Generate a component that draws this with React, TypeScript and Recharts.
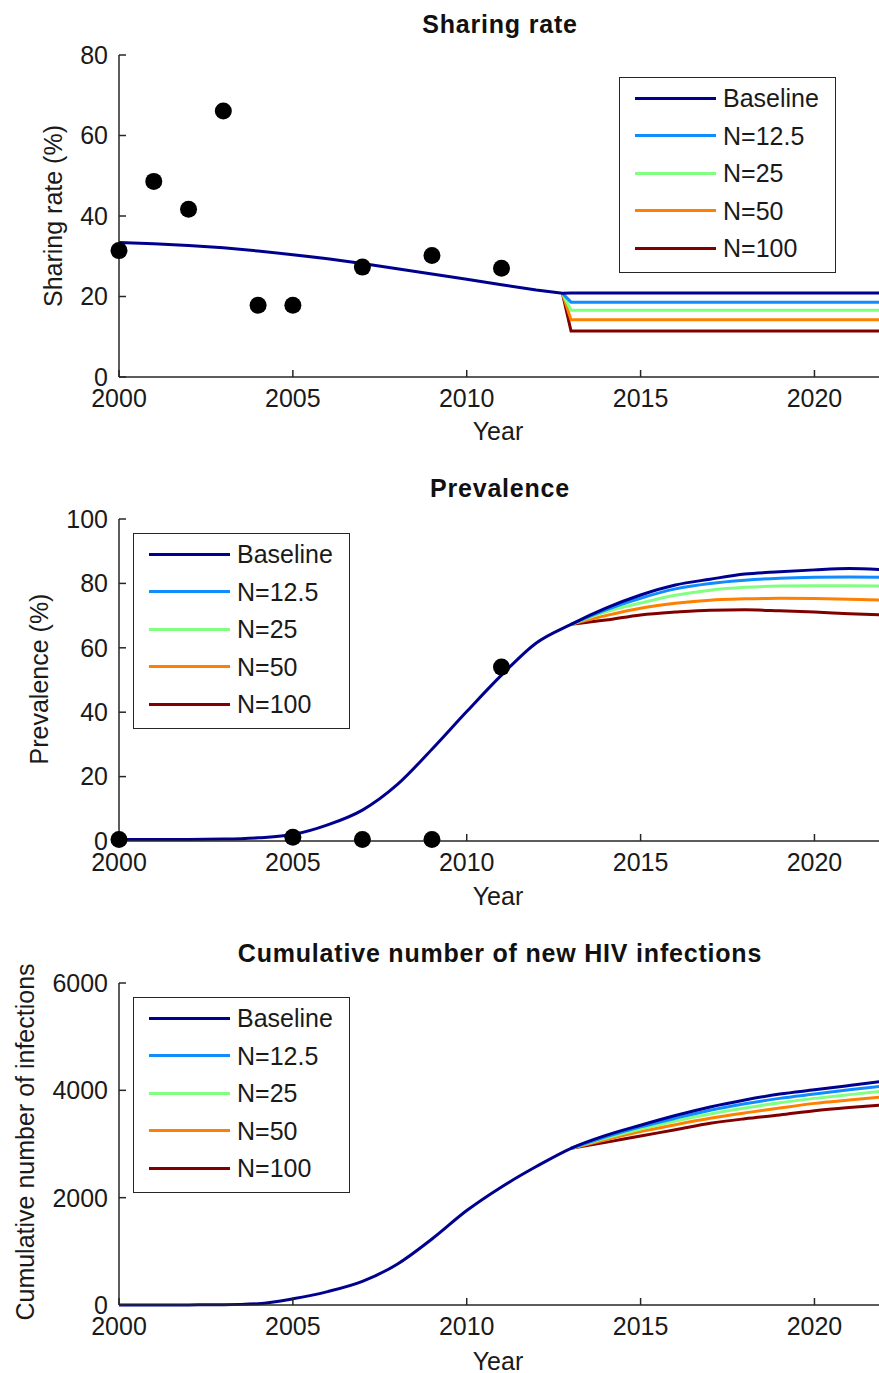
import { ComposedChart, Line, Scatter, XAxis, YAxis, Legend } from 'recharts';

const SERIES = ['Baseline', 'N=12.5', 'N=25', 'N=50', 'N=100'];
const COLORS: Record<string, string> = {
  Baseline: '#00008F',
  'N=12.5': '#0F8CFF',
  'N=25': '#80FF80',
  'N=50': '#FF8000',
  'N=100': '#800000',
};

const xTicks = [2000, 2005, 2010, 2015, 2020];

// sharing rate (%)
const shareYears = [2000, 2001, 2002, 2003, 2004, 2005, 2006, 2007, 2008, 2009, 2010, 2011, 2012, 2012.75, 2013, 2014, 2015, 2016, 2017, 2018, 2019, 2020, 2021, 2022];
const shareBaseline = [33.4, 33.1, 32.7, 32.1, 31.3, 30.4, 29.4, 28.2, 26.9, 25.6, 24.3, 22.9, 21.6, 20.8, 20.9, 20.9, 20.9, 20.9, 20.9, 20.9, 20.9, 20.9, 20.9, 20.9];
const shareN125 = [20.8, 18.6, 18.6, 18.6, 18.6, 18.6, 18.6, 18.6, 18.6, 18.6, 18.6];
const shareN25 = [20.8, 16.6, 16.6, 16.6, 16.6, 16.6, 16.6, 16.6, 16.6, 16.6, 16.6];
const shareN50 = [20.8, 14.2, 14.2, 14.2, 14.2, 14.2, 14.2, 14.2, 14.2, 14.2, 14.2];
const shareN100 = [20.8, 11.4, 11.4, 11.4, 11.4, 11.4, 11.4, 11.4, 11.4, 11.4, 11.4];
const shareObsYears = [2000, 2001, 2002, 2003, 2004, 2005, 2007, 2009, 2011];
const shareObsValues = [31.4, 48.6, 41.7, 66.1, 17.8, 17.8, 27.3, 30.2, 27.0];

// prevalence (%)
const years = [2000, 2001, 2002, 2003, 2004, 2005, 2006, 2007, 2008, 2009, 2010, 2011, 2012, 2013, 2014, 2015, 2016, 2017, 2018, 2019, 2020, 2021, 2022];
const prevBaseline = [0.5, 0.5, 0.5, 0.6, 1.0, 2.0, 5.0, 9.6, 17.5, 28.5, 40.2, 51.5, 61.5, 67.3, 72.3, 76.4, 79.5, 81.3, 82.9, 83.6, 84.2, 84.6, 84.2];
const prevN125 = [67.3, 71.8, 75.4, 78.3, 80.0, 81.0, 81.6, 81.9, 82.0, 81.9];
const prevN25 = [67.3, 71.2, 73.9, 76.3, 77.9, 78.8, 79.2, 79.3, 79.3, 79.2];
const prevN50 = [67.3, 70.0, 72.3, 73.8, 74.8, 75.2, 75.4, 75.3, 75.1, 74.8];
const prevN100 = [67.3, 68.6, 70.2, 71.1, 71.7, 71.8, 71.5, 71.1, 70.6, 70.2];
const prevObsYears = [2000, 2005, 2007, 2009, 2011];
const prevObsValues = [0.5, 1.2, 0.5, 0.5, 54];

// cumulative number of new infections
const cumBaseline = [0, 0, 2, 5, 25, 115, 250, 440, 760, 1230, 1760, 2200, 2580, 2920, 3160, 3350, 3530, 3690, 3820, 3930, 4010, 4090, 4170];
const cumN125 = [2920, 3135, 3320, 3480, 3630, 3750, 3850, 3930, 4010, 4080];
const cumN25 = [2920, 3110, 3280, 3430, 3560, 3670, 3770, 3850, 3920, 3990];
const cumN50 = [2920, 3080, 3230, 3360, 3480, 3580, 3670, 3757, 3820, 3880];
const cumN100 = [2920, 3030, 3150, 3265, 3385, 3470, 3540, 3620, 3680, 3730];

function buildRows(yrs: number[], base: number[], branch: number, proj: number[][]) {
  const start = yrs.indexOf(branch);
  return yrs.map((year, i) => {
    const row: Record<string, number> = { year, Baseline: base[i] };
    if (i >= start) {
      SERIES.slice(1).forEach((name, k) => {
        row[name] = proj[k][i - start];
      });
    }
    return row;
  });
}

function buildObs(yrs: number[], vals: number[]) {
  return yrs.map((year, i) => ({ year, value: vals[i] }));
}

const shareRows = buildRows(shareYears, shareBaseline, 2012.75, [shareN125, shareN25, shareN50, shareN100]);
const prevRows = buildRows(years, prevBaseline, 2013, [prevN125, prevN25, prevN50, prevN100]);
const cumRows = buildRows(years, cumBaseline, 2013, [cumN125, cumN25, cumN50, cumN100]);

const AXIS = { stroke: '#262626', strokeWidth: 1.5 };
const FONT = '"Liberation Sans", Arial, sans-serif';

function MatlabLegend(props: any) {
  const colorOf: Record<string, string> = {};
  (props.payload || []).forEach((p: any) => {
    colorOf[p.value] = p.color;
  });
  return (
    <div
      style={{
        width: 217,
        height: 196,
        border: '1.5px solid #262626',
        background: '#fff',
        boxSizing: 'border-box',
        position: 'relative',
        fontFamily: FONT,
      }}
    >
      {SERIES.map((name, i) => (
        <div
          key={name}
          style={{
            position: 'absolute',
            left: 0,
            top: 5 + i * 37.5,
            height: 30,
            display: 'flex',
            alignItems: 'center',
          }}
        >
          <div style={{ marginLeft: 15, width: 81, height: 3, background: colorOf[name] || COLORS[name] }} />
          <span style={{ marginLeft: 7, fontSize: 25, lineHeight: '30px', color: '#1a1a1a', whiteSpace: 'nowrap' }}>
            {name}
          </span>
        </div>
      ))}
    </div>
  );
}

interface PanelProps {
  top: number;
  rows: Record<string, number>[];
  obs?: { year: number; value: number }[];
  yMax: number;
  yTicks: number[];
  lineType: 'linear' | 'monotone';
  legendLeft: number;
  legendTop: number;
}

function Panel({ top, rows, obs, yMax, yTicks, lineType, legendLeft, legendTop }: PanelProps) {
  return (
    <div style={{ position: 'absolute', left: 0, top }}>
      <ComposedChart width={900} height={460} data={rows} margin={{ top: 55, right: 16, bottom: 43, left: 0 }}>
        <XAxis
          dataKey='year'
          type='number'
          domain={[2000, 2022]}
          ticks={xTicks}
          height={40}
          tickSize={-7}
          tickMargin={19}
          axisLine={AXIS}
          tickLine={AXIS}
          tick={{ fill: '#1a1a1a', fontSize: 25 }}
        />
        <XAxis
          xAxisId='top'
          orientation='top'
          dataKey='year'
          type='number'
          domain={[2000, 2022]}
          ticks={xTicks}
          height={0}
          tickSize={-7}
          tick={false}
          axisLine={AXIS}
          tickLine={AXIS}
        />
        <YAxis
          type='number'
          domain={[0, yMax]}
          ticks={yTicks}
          width={119}
          tickSize={-7}
          tickMargin={18}
          axisLine={AXIS}
          tickLine={AXIS}
          tick={{ fill: '#1a1a1a', fontSize: 25 }}
        />
        <YAxis
          yAxisId='right'
          orientation='right'
          type='number'
          domain={[0, yMax]}
          ticks={yTicks}
          width={0}
          tickSize={-7}
          tick={false}
          axisLine={AXIS}
          tickLine={AXIS}
        />
        {SERIES.slice()
          .reverse()
          .map((name) => (
            <Line
              key={name}
              type={lineType}
              dataKey={name}
              stroke={COLORS[name]}
              strokeWidth={3}
              dot={false}
              activeDot={false}
              isAnimationActive={false}
            />
          ))}
        {obs && (
          <Scatter
            data={obs}
            dataKey='value'
            legendType='none'
            isAnimationActive={false}
            shape={(p: any) => <circle cx={p.cx} cy={p.cy} r={8.5} fill='#000' />}
          />
        )}
        <Legend
          layout='horizontal'
          verticalAlign='middle'
          align='center'
          wrapperStyle={{ left: legendLeft, top: legendTop, width: 217, height: 196 }}
          content={(props: any) => <MatlabLegend {...props} />}
        />
      </ComposedChart>
    </div>
  );
}

const titleStyle = { fontFamily: FONT, fontSize: 25, fontWeight: 700, letterSpacing: 0.8, fill: '#111' };
const labelStyle = { fontFamily: FONT, fontSize: 25, fill: '#1a1a1a' };

export default function App() {
  return (
    <div
      style={{
        position: 'absolute',
        left: 0,
        top: 0,
        width: 879,
        height: 1373,
        overflow: 'hidden',
        background: '#fff',
        fontFamily: FONT,
      }}
    >
      <Panel
        top={0}
        rows={shareRows}
        obs={buildObs(shareObsYears, shareObsValues)}
        yMax={80}
        yTicks={[0, 20, 40, 60, 80]}
        lineType='linear'
        legendLeft={619}
        legendTop={77}
      />
      <Panel
        top={464}
        rows={prevRows}
        obs={buildObs(prevObsYears, prevObsValues)}
        yMax={100}
        yTicks={[0, 20, 40, 60, 80, 100]}
        lineType='monotone'
        legendLeft={133}
        legendTop={69}
      />
      <Panel
        top={928}
        rows={cumRows}
        yMax={6000}
        yTicks={[0, 2000, 4000, 6000]}
        lineType='monotone'
        legendLeft={133}
        legendTop={69}
      />
      <svg
        width={879}
        height={1373}
        style={{ position: 'absolute', left: 0, top: 0, pointerEvents: 'none' }}
      >
        <text x={500} y={33} textAnchor='middle' style={titleStyle}>Sharing rate</text>
        <text x={500} y={497} textAnchor='middle' style={titleStyle}>Prevalence</text>
        <text x={500} y={962} textAnchor='middle' style={titleStyle}>Cumulative number of new HIV infections</text>
        <text x={498} y={440} textAnchor='middle' style={labelStyle}>Year</text>
        <text x={498} y={905} textAnchor='middle' style={labelStyle}>Year</text>
        <text x={498} y={1370} textAnchor='middle' style={labelStyle}>Year</text>
        <text x={62} y={216} textAnchor='middle' transform='rotate(-90 62 216)' style={labelStyle}>Sharing rate (%)</text>
        <text x={48} y={679} textAnchor='middle' transform='rotate(-90 48 679)' style={labelStyle}>Prevalence (%)</text>
        <text x={34} y={1142} textAnchor='middle' transform='rotate(-90 34 1142)' style={labelStyle}>Cumulative number of infections</text>
      </svg>
    </div>
  );
}
